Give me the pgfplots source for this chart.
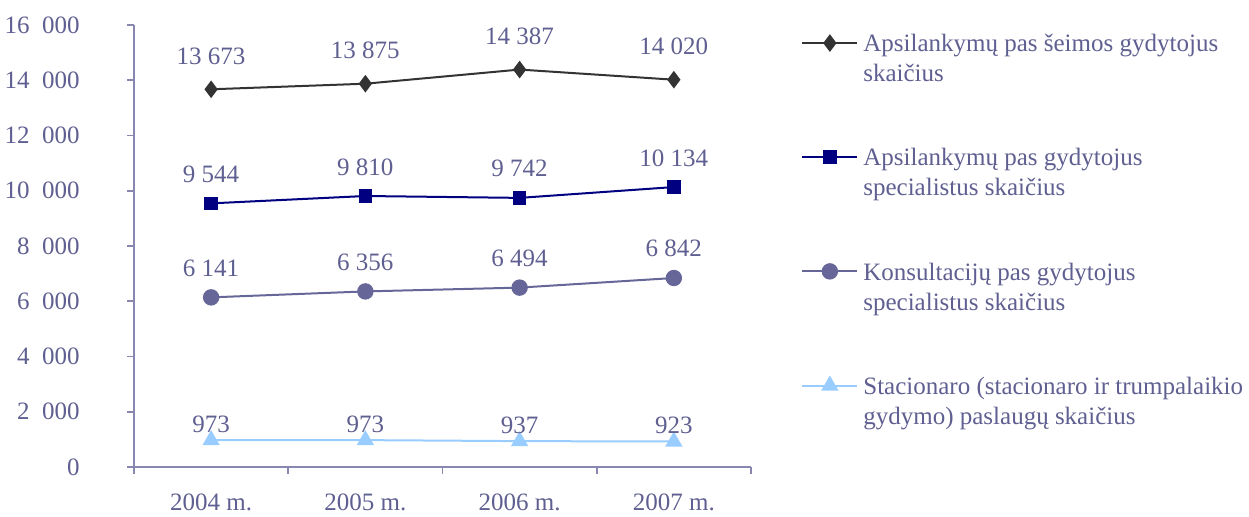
\documentclass[border=0pt]{standalone}
\usepackage{pgfplots}
\pgfplotsset{compat=1.18}
\usepackage{fontspec}
\setmainfont{Liberation Serif}
\definecolor{txt}{RGB}{95,95,145}
\definecolor{axc}{RGB}{135,135,175}
\definecolor{s1}{RGB}{51,51,51}
\definecolor{s2}{RGB}{0,0,128}
\definecolor{s3}{RGB}{102,102,153}
\definecolor{s4}{RGB}{153,204,255}
\begin{document}
\fontsize{12.5}{15}\selectfont
\begin{tikzpicture}[font=\fontsize{12.5}{15}\selectfont]
\begin{axis}[
  at={(0,0)}, anchor=south west,
  scale only axis, width=308.5pt, height=221pt,
  xmin=-0.5, xmax=3.5, ymin=0, ymax=16000,
  axis lines*=left,
  axis line style={draw=axc, line width=0.8pt},
  xtick={0,1,2,3}, xticklabels={2004 m.,2005 m.,2006 m.,2007 m.},
  major x tick style={draw=none},
  minor xtick={-0.5,0.5,1.5,2.5,3.5},
  minor x tick style={draw=axc, line width=0.8pt},
  ytick={0,2000,...,16000},
  y tick style={draw=axc, line width=0.8pt},
  tick align=outside,
  major tick length=3.5pt, minor tick length=3.5pt,
  scaled y ticks=false,
  yticklabel style={/pgf/number format/1000 sep={\ \ }, /pgf/number format/assume math mode=true, text=txt, anchor=east, inner sep=0pt, xshift=-23.5pt},
  xticklabel style={text=txt, anchor=base, inner sep=0pt, yshift=-18pt},
  nodes near coords={\pgfmathprintnumber[1000 sep={\ }, assume math mode=true]{\pgfplotspointmeta}},
  every node near coord/.append style={text=txt, anchor=base, inner sep=0pt},
  legend style={at={(1.081,0.988)}, anchor=north west, draw=none, fill=none, inner sep=0pt, row sep=44.7pt, column sep=2.5pt, nodes={inner sep=0pt, text=txt, font=\fontsize{12.5}{15}\selectfont}},
  legend cell align=left,
  legend image code/.code={\draw[#1, mark repeat=2, mark phase=2] plot coordinates {(0pt,0pt) (13.75pt,0pt) (27.5pt,0pt)};},
  clip=false,
]
\addplot[s1, line width=1pt, mark=diamond*, mark size=3.6pt, mark options={fill=s1, draw=s1}, every node near coord/.append style={yshift=12.5pt}]
  coordinates {(0,13673) (1,13875) (2,14387) (3,14020)};
\addlegendentry{\begin{tabular}[t]{@{}l@{}}Apsilankymų pas šeimos gydytojus\\skaičius\end{tabular}}
\addplot[s2, line width=1pt, mark=square*, mark size=2.9pt, mark options={fill=s2, draw=s2}, every node near coord/.append style={yshift=10.5pt}]
  coordinates {(0,9544) (1,9810) (2,9742) (3,10134)};
\addlegendentry{\begin{tabular}[t]{@{}l@{}}Apsilankymų pas gydytojus\\specialistus skaičius\end{tabular}}
\addplot[s3, line width=1pt, mark=*, mark size=3.6pt, mark options={fill=s3, draw=s3}, every node near coord/.append style={yshift=10.5pt}]
  coordinates {(0,6141) (1,6356) (2,6494) (3,6842)};
\addlegendentry{\begin{tabular}[t]{@{}l@{}}Konsultacijų pas gydytojus\\specialistus skaičius\end{tabular}}
\addplot[s4, line width=1pt, mark=triangle*, mark size=4pt, mark options={fill=s4, draw=s4}, every node near coord/.append style={yshift=4pt}]
  coordinates {(0,973) (1,973) (2,937) (3,923)};
\addlegendentry{\begin{tabular}[t]{@{}l@{}}Stacionaro (stacionaro ir trumpalaikio\\gydymo) paslaugų skaičius\end{tabular}}
\end{axis}
\pgfresetboundingbox
\path (-67pt,-24.5pt) rectangle (557.5pt,233.5pt);
\end{tikzpicture}
\end{document}
